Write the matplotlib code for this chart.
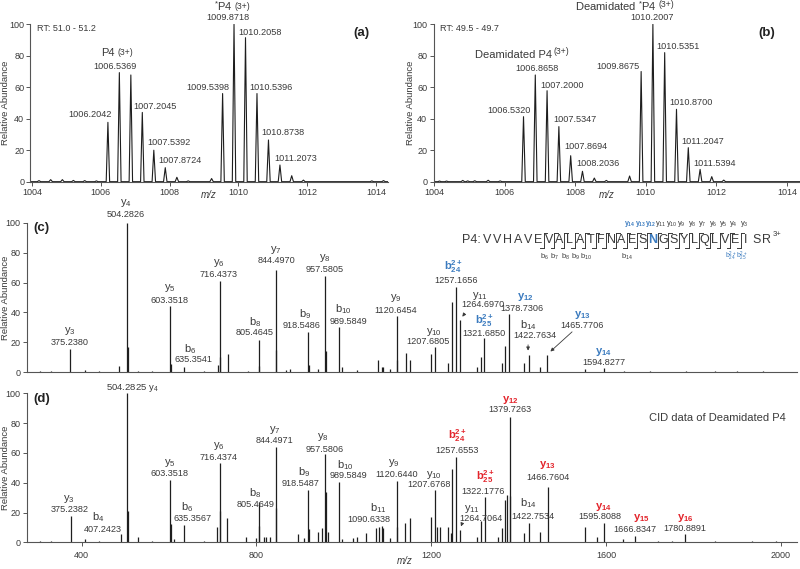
import matplotlib
matplotlib.use("Agg")
import matplotlib.pyplot as plt

plt.rcParams["font.family"] = ["Liberation Sans", "DejaVu Sans"]
plt.rcParams["mathtext.fontset"] = "custom"
plt.rcParams["mathtext.rm"] = "Liberation Sans"
plt.rcParams["mathtext.it"] = "Liberation Sans:italic"
plt.rcParams["mathtext.bf"] = "Liberation Sans:bold"

GRAY = "#3a3a3a"
AXC = "#555555"
BLUE = "#3b7bbf"
RED = "#e3242b"
LINE = "#1e1e1e"

# ---------------- data: (a) full MS, RT 51.0-51.2 ----------------
a_mz = [1004.20, 1004.54, 1004.88, 1005.20, 1005.53, 1005.87, 1006.2042, 1006.5369,
        1006.8712, 1007.2045, 1007.5392, 1007.8724, 1008.21, 1008.54, 1009.22,
        1009.5398, 1009.8718, 1010.2058, 1010.5396, 1010.8738, 1011.2073, 1011.55,
        1011.89, 1013.88, 1014.22]
a_int = [0.7, 1.3, 1.3, 0.8, 0.7, 0.5, 37.7, 69.3, 67.8, 44.0, 20.0, 8.9, 2.8, 0.5, 2.0,
         56.0, 100.0, 91.5, 56.0, 26.5, 10.6, 3.8, 1.0, 0.5, 0.7]
a_labels = ["1006.2042", "1006.5369", "1007.2045", "1007.5392", "1007.8724", "1009.5398",
            "1009.8718", "1010.2058", "1010.5396", "1010.8738", "1011.2073"]

# ---------------- data: (b) full MS, RT 49.5-49.7 ----------------
b_mz = [1004.15, 1004.35, 1004.81, 1004.95, 1005.15, 1005.53, 1005.87, 1006.5320,
        1006.8658, 1007.2000, 1007.5347, 1007.8694, 1008.2036, 1008.54, 1008.88,
        1009.54, 1009.8675, 1010.2007, 1010.5351, 1010.8700, 1011.2047, 1011.5394,
        1011.87, 1012.21]
b_int = [0.4, 0.4, 0.8, 0.5, 0.6, 0.9, 0.5, 41.3, 67.8, 57.8, 35.0, 16.5, 6.6, 2.3, 0.8,
         3.6, 70.0, 100.0, 82.0, 46.0, 21.6, 7.8, 3.2, 1.0]
b_labels = ["1006.5320", "1006.8658", "1007.2000", "1007.5347", "1007.8694", "1008.2036",
            "1009.8675", "1010.2007", "1010.5351", "1010.8700", "1011.2047", "1011.5394"]

# ---------------- data: (c) CID of P4 ----------------
c_mz = [305, 330, 373.24, 407.2, 440, 485, 504.28, 505.29, 530, 560, 603.35, 604.35,
        635.35, 680, 712, 716.44, 717.44, 735.0, 780, 805.46, 806.47, 844.50, 845.50,
        868, 877, 918.55, 919.55, 942, 957.58, 958.58, 989.58, 995, 1029, 1077.5,
        1086.7, 1090, 1105.6, 1120.65, 1121.65, 1142, 1151, 1200, 1207.68, 1239, 1248,
        1257.17, 1264.70, 1304, 1314, 1321.69, 1361, 1369.6, 1378.73, 1413, 1422.76,
        1449, 1465.77, 1552, 1594.83, 1640, 1700, 1783, 1850, 1900, 1960]
c_int = [0.7, 0.6, 15.7, 1.2, 0.8, 4.0, 100.0, 16.8, 1.0, 0.8, 44.3, 5.6, 3.4, 1.0, 4.5,
         61.3, 10.0, 11.9, 1.0, 21.3, 4.0, 68.5, 15.0, 1.6, 2.2, 26.8, 5.0, 2.2, 64.4,
         14.0, 30.2, 3.4, 1.6, 8.3, 3.4, 3.4, 1.8, 37.4, 8.0, 12.5, 8.0, 12.0, 17.0, 5.8,
         47.2, 57.3, 35.0, 3.6, 10.3, 22.6, 5.8, 17.4, 39.0, 6.3, 11.4, 3.6, 11.4, 2.0,
         2.9, 1.0, 1.0, 1.0, 0.8, 0.8, 0.8]
c_ions = ["y$_4$", "y$_5$", "y$_6$", "y$_7$", "y$_8$", "b$_8$", "b$_9$", "b$_{10}$",
          "y$_9$", "y$_3$", "b$_6$", "y$_{10}$", r"$\mathbf{b_{24}^{2+}}$", "y$_{11}$",
          r"$\mathbf{y_{12}}$", r"$\mathbf{b_{25}^{2+}}$", "b$_{14}$", r"$\mathbf{y_{13}}$",
          r"$\mathbf{y_{14}}$"]
c_ion_mz = ["504.2826", "603.3518", "716.4373", "844.4970", "957.5805", "805.4645",
            "918.5486", "989.5849", "1120.6454", "375.2380", "635.3541", "1207.6805",
            "1257.1656", "1264.6970", "1378.7306", "1321.6850", "1422.7634", "1465.7706",
            "1594.8277"]
c_ion_color = [GRAY] * 12 + [BLUE, GRAY, BLUE, BLUE, GRAY, BLUE, BLUE]

# ---------------- data: (d) CID of deamidated P4 ----------------
d_mz = [305, 330, 375.24, 407.24, 440, 490, 504.28, 505.29, 530, 560, 603.35, 604.35,
        612, 635.36, 680, 710.4, 716.44, 717.44, 733.4, 775, 798, 805.46, 806.47, 817,
        823, 830, 844.50, 845.50, 895.8, 909, 918.55, 919.55, 941.7, 951, 957.58,
        958.58, 964.5, 989.58, 995, 1021.7, 1031, 1050, 1073, 1080.5, 1086.7, 1090.63,
        1105.6, 1120.64, 1121.64, 1140, 1151.4, 1199.5, 1207.68, 1213, 1220, 1239,
        1244.6, 1248.3, 1257.66, 1264.71, 1304, 1314, 1322.18, 1352, 1361, 1369.6,
        1373.5, 1379.73, 1380.73, 1413, 1422.75, 1449, 1466.76, 1552, 1578.8, 1595.81,
        1638, 1666.83, 1720, 1750, 1780.89, 1850, 1935, 1990]
d_int = [0.7, 0.6, 17.7, 2.3, 0.8, 5.4, 100.0, 21.0, 3.4, 0.8, 41.8, 12.3, 2.0, 11.4,
         1.0, 10.5, 53.0, 21.0, 16.0, 3.4, 3.0, 27.3, 11.0, 3.4, 3.8, 3.4, 64.2, 23.0,
         5.4, 2.7, 35.0, 9.0, 7.2, 9.8, 59.3, 34.0, 6.7, 40.7, 2.2, 3.1, 3.4, 6.0, 9.8,
         10.0, 11.0, 9.8, 3.0, 41.4, 10.0, 13.0, 16.0, 17.0, 35.0, 10.5, 10.5, 10.5, 6.0,
         49.0, 57.5, 8.3, 3.8, 14.0, 30.6, 3.8, 9.8, 28.4, 31.8, 84.3, 31.0, 6.0, 13.2,
         7.2, 37.4, 10.5, 3.8, 13.2, 2.2, 4.5, 1.0, 1.0, 5.4, 0.8, 1.0, 0.8]
d_ions = ["y$_5$", "y$_6$", "y$_7$", "y$_8$", "b$_8$", "b$_9$", "b$_{10}$", "y$_9$",
          "y$_3$", "b$_4$", "b$_6$", "b$_{11}$", "y$_{10}$", r"$\mathbf{b_{24}^{2+}}$",
          r"$\mathbf{y_{12}}$", r"$\mathbf{b_{25}^{2+}}$", "y$_{11}$", "b$_{14}$",
          r"$\mathbf{y_{13}}$", r"$\mathbf{y_{14}}$", r"$\mathbf{y_{15}}$",
          r"$\mathbf{y_{16}}$"]
d_ion_mz = ["603.3518", "716.4374", "844.4971", "957.5806", "805.4649", "918.5487",
            "989.5849", "1120.6440", "375.2382", "407.2423", "635.3567", "1090.6338",
            "1207.6768", "1257.6553", "1379.7263", "1322.1776", "1264.7064", "1422.7534",
            "1466.7604", "1595.8088", "1666.8347", "1780.8891"]
d_ion_color = [GRAY] * 13 + [RED, RED, RED, GRAY, GRAY, RED, RED, RED, RED]

sequence = "VVHAVEVALATFNAESNGSYLQLVEISR"
y_top = ["14", "13", "12", "11", "10", "9", "8", "7", "6", "5", "4", "3"]
b_bottom = ["b$_6$", "b$_7$", "b$_8$", "b$_9$", "b$_{10}$", "b$_{14}$",
            "b$_{24}^{2+}$", "b$_{25}^{2+}$"]
b_bottom_cut = [6, 7, 8, 9, 10, 14, 24, 25]

# ---------------- label layout (data coords) ----------------
a_label_xy = [(1005.68, 43), (1006.41, 73.5), (1007.57, 47.5), (1007.98, 24.6),
              (1008.30, 13.2), (1009.11, 60), (1009.70, 104.6), (1010.63, 95.1),
              (1010.95, 60), (1011.30, 31), (1011.67, 15)]
b_label_xy = [(1006.12, 45.5), (1006.91, 72.2), (1007.62, 61.4), (1007.99, 39.6),
              (1008.31, 22.2), (1008.65, 11.8), (1009.22, 73.5), (1010.18, 104.6),
              (1010.92, 85.8), (1011.28, 50.2), (1011.62, 25.4), (1011.96, 11.8)]
c_name_xy = [(501, 113.4), (602, 56.4), (714, 73.2), (845, 81.9), (957, 76.5),
             (797, 33.6), (911, 38.9), (998, 42.3), (1119, 49.7), (373, 27.5),
             (648, 15.4), (1206, 27.0), (1250, 71.0), (1312, 51.0), (1415, 50.3),
             (1321, 34.5), (1422, 31.5), (1545, 38.3), (1593, 13.4)]
c_num_xy = [(501, 105.4), (602, 48.3), (714, 65.1), (845, 74.5), (957, 68.5),
            (797, 26.2), (904, 30.9), (1010, 34.2), (1119, 41.6), (373, 19.5),
            (655, 8.1), (1193, 20.3), (1257, 61.1), (1318, 45.0), (1408, 42.3),
            (1321, 26.0), (1438, 24.2), (1545, 31.5), (1595, 6.7)]
d_name_xy = [(602, 53.2), (714, 64.6), (842, 75.4), (952, 70.7), (797, 33.1),
             (909, 47.2), (1003, 51.9), (1115, 53.2), (371, 29.1), (437, 17.0),
             (641, 23.7), (1078, 23.0), (1206, 45.2), (1259, 71.5), (1380, 95.5),
             (1323, 44.0), (1293, 22.5), (1422, 26.4), (1465, 51.9), (1593, 23.7),
             (1682, 16.3), (1781, 16.3)]
d_num_xy = [(602, 46.5), (714, 57.2), (842, 68.0), (957, 62.6), (797, 25.7),
            (902, 39.8), (1010, 44.5), (1122, 45.8), (373, 21.7), (449, 8.9),
            (655, 16.3), (1058, 15.6), (1195, 38.5), (1259, 61.3), (1380, 88.8),
            (1318, 33.8), (1314, 16.0), (1433, 17.6), (1467, 43.8), (1586, 17.0),
            (1666, 8.3), (1781, 9.6)]


def profile(mz, inten, half=0.05):
    xs, ys = [], []
    for m, v in sorted(zip(mz, inten)):
        xs += [m - half, m, m + half]
        ys += [0, v, 0]
    return xs, ys


def style(ax, xlim):
    for s in ["top", "right"]:
        ax.spines[s].set_visible(False)
    for s in ["left", "bottom"]:
        ax.spines[s].set_color(AXC)
        ax.spines[s].set_linewidth(0.8)
    ax.set_xlim(*xlim)
    ax.set_ylim(0, 100)
    ax.set_yticks([0, 20, 40, 60, 80, 100])
    ax.tick_params(colors=AXC, labelcolor=GRAY, labelsize=6.5, length=3, width=0.7,
                   pad=1.5)
    ax.set_ylabel("Relative Abundance", fontsize=6.8, color=GRAY)


fig = plt.figure(figsize=(8, 5.69), dpi=100)
ax_a = fig.add_axes([0.038, 0.6807, 0.447, 0.2766])
ax_b = fig.add_axes([0.5419, 0.6807, 0.458, 0.2766])
ax_c = fig.add_axes([0.03375, 0.3462, 0.9625, 0.2619])
ax_d = fig.add_axes([0.03375, 0.0469, 0.9625, 0.2619])

# ---- (a) and (b) ----
for ax, mz, inten, labels, xy, xlim, rt, tag in [
        (ax_a, a_mz, a_int, a_labels, a_label_xy, (1003.95, 1014.35), "RT: 51.0 - 51.2", "(a)"),
        (ax_b, b_mz, b_int, b_labels, b_label_xy, (1003.98, 1014.37), "RT: 49.5 - 49.7", "(b)")]:
    xs, ys = profile(mz, inten)
    ax.plot([xlim[0]] + xs + [xlim[1]], [0] + ys + [0], color=LINE, lw=0.8)
    style(ax, xlim)
    ax.set_xticks([1004, 1006, 1008, 1010, 1012, 1014])
    ax.set_xlabel("m/z", fontsize=7, color=GRAY, style="italic")
    for t, (x, y) in zip(labels, xy):
        ax.text(x, y, t, fontsize=6.6, color=GRAY, ha="center", va="center")
    ax.text(0.018, 0.976, rt, transform=ax.transAxes, fontsize=6.5, color=GRAY,
            va="center")
    ax.text(0.925 if tag == "(a)" else 0.91, 0.945, tag, transform=ax.transAxes,
            fontsize=9.5, fontweight="bold", color="#222222", ha="center", va="center")

ax_a.yaxis.set_label_coords(-0.058, 0.5)
ax_b.yaxis.set_label_coords(-0.051, 0.5)
ax_a.xaxis.set_label_coords(0.5, -0.05)
ax_b.xaxis.set_label_coords(0.473, -0.05)

ax_a.text(1006.41, 81.8, "P4", fontsize=8, color=GRAY, ha="right", va="center")
ax_a.text(1006.47, 81.8, "(3+)", fontsize=6.2, color=GRAY, ha="left", va="center")
ax_a.text(1009.84, 111.6, "$^{*}$P4", fontsize=8, color=GRAY, ha="right", va="center")
ax_a.text(1009.90, 111.6, "(3+)", fontsize=6.2, color=GRAY, ha="left", va="center")
ax_b.text(1007.33, 80.5, "Deamidated P4", fontsize=8, color=GRAY, ha="right", va="center")
ax_b.text(1007.39, 82.5, "(3+)", fontsize=6.2, color=GRAY, ha="left", va="center")
ax_b.text(1010.31, 111.6, "Deamidated $^{*}$P4", fontsize=8, color=GRAY, ha="right",
          va="center")
ax_b.text(1010.37, 112.5, "(3+)", fontsize=6.2, color=GRAY, ha="left", va="center")

# ---- (c) and (d) ----
for ax, mz, inten in [(ax_c, c_mz, c_int), (ax_d, d_mz, d_int)]:
    ax.vlines(mz, 0, inten, color=LINE, lw=0.9)
    style(ax, (275, 2037))
    ax.yaxis.set_label_coords(-0.022, 0.5)

ax_c.set_xticks([])
ax_d.set_xticks([400, 800, 1200, 1600, 2000])
ax_d.tick_params(axis="x", pad=3)
ax_d.set_xlabel("m/z", fontsize=7, color=GRAY, style="italic")
ax_d.xaxis.set_label_coords(0.491, -0.095)

for ax, names, nums, cols, nxy, mxy in [
        (ax_c, c_ions, c_ion_mz, c_ion_color, c_name_xy, c_num_xy),
        (ax_d, d_ions, d_ion_mz, d_ion_color, d_name_xy, d_num_xy)]:
    for n, v, col, p, q in zip(names, nums, cols, nxy, mxy):
        ax.text(p[0], p[1], n, fontsize=8, color=col, ha="center", va="center")
        ax.text(q[0], q[1], v, fontsize=6.6, color=GRAY, ha="center", va="center")

ax_d.text(517, 103.6, "504.2825 y$_4$", fontsize=6.8, color=GRAY, ha="center",
          va="center")
ax_c.text(0.0078, 0.966, "(c)", transform=ax_c.transAxes, fontsize=9.5,
          fontweight="bold", color="#222222", va="center")
ax_d.text(0.0078, 0.962, "(d)", transform=ax_d.transAxes, fontsize=9.5,
          fontweight="bold", color="#222222", va="center")
ax_d.text(1854, 83.4, "CID data of Deamidated P4", fontsize=8, color=GRAY,
          ha="center", va="center")

arrow = dict(arrowstyle="-|>", lw=0.6, color=GRAY, mutation_scale=5)
ax_c.annotate("", xy=(1267.5, 35.6), xytext=(1279.6, 40.5), arrowprops=arrow)
ax_c.annotate("", xy=(1421.6, 12.5), xytext=(1421.6, 20.1), arrowprops=arrow)
ax_c.annotate("", xy=(1468, 12.5), xytext=(1527, 28.2), arrowprops=arrow)
ax_d.annotate("", xy=(1265.9, 8.9), xytext=(1272.7, 14.3), arrowprops=arrow)

# ---- peptide sequence with fragment marks (axes fraction of (c)) ----
x0 = (486.7 - 27) / 770
step = 10.37 / 770
ty = 0.886
ax_c.text(x0 - 0.6 * step, ty, "P4:", transform=ax_c.transAxes, fontsize=9,
          color=GRAY, ha="right", va="center")
for i, aa in enumerate(sequence):
    blue = aa == "N" and i == 16
    ax_c.text(x0 + i * step, ty, aa, transform=ax_c.transAxes, fontsize=9,
              color=BLUE if blue else GRAY, fontweight="bold" if blue else "normal",
              ha="center", va="center")
ax_c.text(x0 + 27.55 * step, ty + 0.035, "3+", transform=ax_c.transAxes, fontsize=5.5,
          color=GRAY, ha="left", va="center")
y_lo, y_hi = 0.835, 0.935
hook = 0.0045
for k in range(6, 26):
    xb = x0 + (k - 0.5) * step
    ax_c.plot([xb, xb], [y_lo, y_hi], transform=ax_c.transAxes, color=GRAY, lw=0.7,
              clip_on=False)
    ax_c.plot([xb, xb + hook], [y_hi, y_hi], transform=ax_c.transAxes, color=GRAY,
              lw=0.7, clip_on=False)
    ax_c.plot([xb - hook, xb], [y_lo, y_lo], transform=ax_c.transAxes, color=GRAY,
              lw=0.7, clip_on=False)
for j, num in enumerate(y_top):
    xb = x0 + (13.5 + j) * step
    if j < 3:
        lab, col, fs = r"$\mathbf{y_{" + num + "}}$", BLUE, 5.0
    else:
        lab, col, fs = "y$_{" + num + "}$", GRAY, 5.4
    ax_c.text(xb + 0.3 * step, 0.995, lab, transform=ax_c.transAxes, fontsize=fs,
              color=col, ha="center", va="center")
for lab, k in zip(b_bottom, b_bottom_cut):
    xb = x0 + (k - 0.5) * step
    col = BLUE if k >= 24 else GRAY
    ax_c.text(xb + 0.05 * step, 0.775, lab, transform=ax_c.transAxes,
              fontsize=5.4 if k < 24 else 4.8, color=col, ha="center", va="center")

fig.savefig("out.png", dpi=100)
